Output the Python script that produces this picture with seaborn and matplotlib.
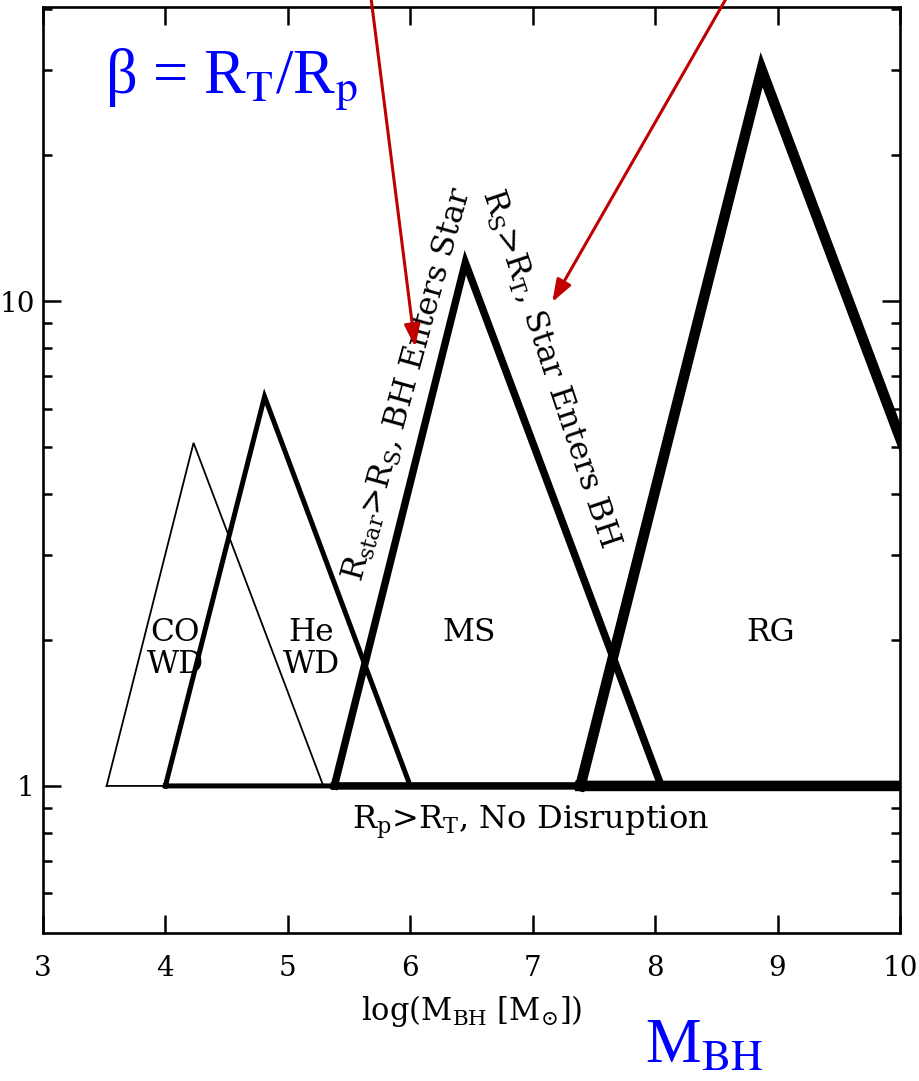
import matplotlib
matplotlib.use("Agg")
import matplotlib.pyplot as plt
from matplotlib.ticker import NullFormatter, NullLocator
import pandas as pd
import seaborn as sns

# Tidal-disruption wedges: base edges, apex position (log M_BH) and apex beta
populations = ["CO WD", "He WD", "MS", "RG"]
base_left = [3.52, 4.00, 5.38, 7.39]
apex_logm = [4.23, 4.81, 6.45, 8.87]
apex_beta = [5.1, 6.35, 12.0, 30.0]
base_right = [5.29, 6.00, 8.05, 11.07]
beta_floor = 1.0
line_widths = [1.3, 3.6, 5.4, 7.6]

region_labels = ["CO\nWD", "He\nWD", "MS", "RG"]
label_logm = [4.08, 5.19, 6.48, 8.94]
label_beta = [1.92, 1.92, 2.07, 2.07]

x_ticks = [3, 4, 5, 6, 7, 8, 9, 10]
y_major = [1, 10]
y_major_labels = ["1", "10"]
y_minor = [0.6, 0.7, 0.8, 0.9, 2, 3, 4, 5, 6, 7, 8, 9, 20, 30, 40]

# closed outline of each wedge: left base -> apex -> right base -> left base
rows = []
for i, pop in enumerate(populations):
    pts = [(base_left[i], beta_floor), (apex_logm[i], apex_beta[i]),
           (base_right[i], beta_floor), (base_left[i], beta_floor)]
    for k, (xv, yv) in enumerate(pts):
        rows.append({"population": pop, "order": k, "logm": xv, "beta": yv})
wedges = pd.DataFrame(rows)

sns.set_theme(style="ticks")
plt.rcParams["font.family"] = ["DejaVu Serif", "DejaVu Sans"]
plt.rcParams["mathtext.fontset"] = "dejavuserif"

fig = plt.figure(figsize=(9.2, 10.81), dpi=100)
ax = fig.add_axes([0.0467, 0.137, 0.9315, 0.8565])
ax.set_yscale("log")

for pop, lw in zip(populations, line_widths):
    sns.lineplot(data=wedges[wedges["population"] == pop], x="logm", y="beta",
                 sort=False, estimator=None, color="black", linewidth=lw,
                 ax=ax, legend=False, solid_joinstyle="miter",
                 solid_capstyle="projecting")

ax.set_xlim(3, 10)
ax.set_ylim(0.4976, 40.4)

ax.set_xticks(x_ticks, labels=[str(t) for t in x_ticks])
ax.xaxis.set_minor_locator(NullLocator())
ax.set_yticks(y_major, labels=y_major_labels)
ax.set_yticks(y_minor, minor=True)
ax.yaxis.set_minor_formatter(NullFormatter())

ax.tick_params(which="both", direction="in", top=True, right=True,
               color="black", width=1.8, labelsize=20, labelcolor="black")
ax.tick_params(which="major", length=13)
ax.tick_params(which="minor", length=6.5)
ax.tick_params(axis="x", pad=16)
ax.tick_params(axis="y", pad=6)
for sp in ax.spines.values():
    sp.set_linewidth(1.9)
    sp.set_color("black")

ax.set_xlabel(r"log(M$_{\rm BH}$ [M$_{\odot}$])", fontsize=22, color="black",
              labelpad=8)
ax.set_ylabel("")

for txt, xv, yv in zip(region_labels, label_logm, label_beta):
    ax.text(xv, yv, txt, ha="center", va="center", fontsize=22.5,
            color="black", linespacing=1.05)

ax.text(6.98, 0.84, r"R$_{\rm p}$>R$_{\rm T}$, No Disruption", ha="center",
        va="center", fontsize=23, color="black")
ax.text(5.98, 6.75, r"R$_{\rm star}$>R$_{\rm S}$, BH Enters Star",
        ha="center", va="center", rotation=74.5, rotation_mode="anchor",
        fontsize=23, color="black")
ax.text(7.14, 7.25, r"R$_{\rm S}$>R$_{\rm T}$, Star Enters BH",
        ha="center", va="center", rotation=-71.5, rotation_mode="anchor",
        fontsize=23, color="black")

# red pointers to the two boundary regimes
red = "#c00000"
arrow = dict(arrowstyle="-|>,head_length=0.45,head_width=0.16", color=red,
             lw=2.2, mutation_scale=30, shrinkA=0, shrinkB=0)
ax.annotate("", xy=(6.04, 8.04), xycoords="data",
            xytext=(370 / 920, 1 + 10 / 1081), textcoords="figure fraction",
            arrowprops=arrow, annotation_clip=False)
ax.annotate("", xy=(7.16, 9.95), xycoords="data",
            xytext=(731 / 920, 1 + 10 / 1081), textcoords="figure fraction",
            arrowprops=arrow, annotation_clip=False)

blue = "#0000ff"
fig.text(105 / 920, (1081 - 93) / 1081, r"β = R$_{\rm T}$/R$_{\rm p}$",
         ha="left", va="baseline", fontsize=45, color=blue,
         family="Liberation Serif", math_fontfamily="stix")
fig.text(645 / 920, (1081 - 1063) / 1081, r"M$_{\rm BH}$",
         ha="left", va="baseline", fontsize=45, color=blue,
         family="Liberation Serif", math_fontfamily="stix")

fig.savefig("out.png", dpi=100)
